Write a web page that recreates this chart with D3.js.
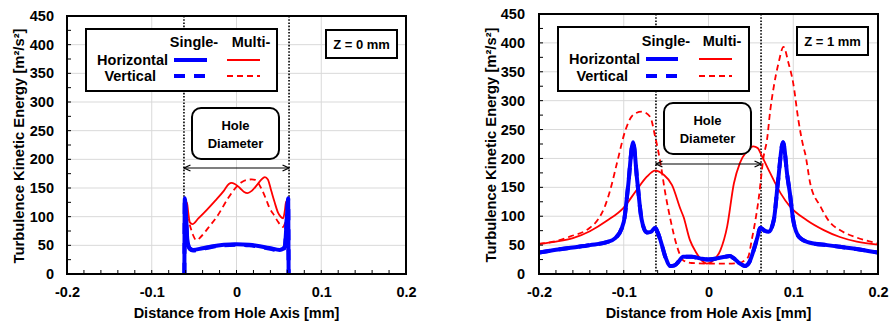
<!DOCTYPE html>
<html>
<head>
<meta charset="utf-8">
<script src="https://cdn.jsdelivr.net/npm/d3@7"></script>
<style>
  body { margin: 0; background: #fff; }
  svg text { font-family: "Liberation Sans", Arial, sans-serif; font-weight: bold; fill: #000; }
</style>
</head>
<body>
<svg id="chart" width="890" height="324"></svg>
<script>
// axis ticks and labels
const xTicks = [-0.2, -0.1, 0, 0.1, 0.2];
const yTicks = [0, 50, 100, 150, 200, 250, 300, 350, 400, 450];
const holeRadius = 0.062;
const panelLabels = ['Z = 0 mm', 'Z = 1 mm'];
const legendCols = ['Single-', 'Multi-'];
const legendRows = ['Horizontal', 'Vertical'];
const xTitle = 'Distance from Hole Axis [mm]';
const yTitle = 'Turbulence Kinetic Energy [m²/s²]';

// Z = 0 mm  ([x, k])
const z0SingleH = [[-0.0615, 0], [-0.061, 132], [-0.0595, 100], [-0.058, 60], [-0.0553, 45], [-0.0513, 42],
  [-0.04, 45], [-0.0297, 48], [-0.015, 51], [0, 52], [0.015, 51], [0.029, 48], [0.04, 45], [0.051, 42],
  [0.055, 44], [0.057, 48], [0.0595, 100], [0.061, 132], [0.0615, 0]];
const z0SingleV = [[-0.0615, 0], [-0.061, 130], [-0.0595, 98], [-0.058, 58], [-0.0553, 44], [-0.0513, 41],
  [-0.04, 44], [-0.0297, 47], [-0.015, 50], [0, 51], [0.015, 50], [0.029, 47], [0.04, 44], [0.051, 41],
  [0.055, 43], [0.057, 47], [0.0595, 98], [0.061, 130], [0.0615, 0]];
const z0MultiH = [[-0.0615, 0], [-0.06, 100], [-0.0585, 125], [-0.057, 108], [-0.055, 90], [-0.052, 87],
  [-0.045, 97], [-0.035, 112], [-0.025, 128], [-0.015, 145], [-0.009, 157], [-0.006, 159], [-0.002, 157],
  [0.004, 150], [0.009, 143], [0.013, 141], [0.018, 145], [0.024, 155], [0.029, 164], [0.0335, 169],
  [0.037, 165], [0.041, 145], [0.045, 125], [0.049, 107], [0.052, 100], [0.055, 97], [0.057, 110],
  [0.0585, 126], [0.06, 90], [0.0615, 0]];
const z0MultiV = [[-0.0615, 0], [-0.0595, 70], [-0.057, 95], [-0.055, 85], [-0.0513, 68], [-0.0474, 59],
  [-0.042, 65], [-0.0336, 80], [-0.0218, 103], [-0.01, 132], [0, 152], [0.006, 160], [0.012, 164],
  [0.018, 165], [0.022, 164], [0.029, 150], [0.035, 130], [0.039, 115], [0.045, 101], [0.049, 91],
  [0.055, 82], [0.058, 90], [0.0595, 70], [0.0615, 0]];

// Z = 1 mm
const z1SingleH = [[-0.2, 37], [-0.18, 42], [-0.16, 46], [-0.14, 50], [-0.12, 55], [-0.11, 62], [-0.1, 90],
  [-0.095, 150], [-0.089, 228], [-0.084, 160], [-0.079, 95], [-0.073, 72], [-0.068, 73], [-0.063, 80],
  [-0.06, 72], [-0.057, 60], [-0.051, 30], [-0.045, 14], [-0.04, 15], [-0.035, 22], [-0.03, 30],
  [-0.02, 30], [-0.01, 27], [0, 25], [0.01, 27], [0.02, 30], [0.025, 31], [0.03, 27], [0.036, 19],
  [0.043, 14], [0.048, 20], [0.053, 40], [0.058, 65], [0.061, 80], [0.066, 75], [0.071, 73], [0.077, 93],
  [0.082, 160], [0.088, 228], [0.093, 170], [0.096, 140], [0.1, 93], [0.107, 64], [0.12, 54], [0.14, 50],
  [0.155, 47], [0.18, 42], [0.2, 37]];
const z1SingleV = z1SingleH.map(d => d.slice());
const z1MultiH = [[-0.2, 52], [-0.18, 56], [-0.16, 62], [-0.14, 74], [-0.12, 92], [-0.1, 115], [-0.085, 145],
  [-0.073, 168], [-0.063, 179], [-0.053, 172], [-0.043, 154], [-0.033, 112], [-0.0295, 99], [-0.022, 59],
  [-0.014, 36], [-0.007, 22], [-0.002, 18], [0.006, 24], [0.014, 41], [0.022, 82], [0.03, 157], [0.037, 192],
  [0.045, 212], [0.053, 221], [0.058, 218], [0.063, 204], [0.073, 174], [0.085, 140], [0.096, 117],
  [0.116, 93], [0.136, 76], [0.155, 64], [0.175, 56], [0.2, 51]];
const z1MultiV = [[-0.2, 52], [-0.18, 57], [-0.163, 65], [-0.14, 80], [-0.13, 95], [-0.122, 118],
  [-0.116, 145], [-0.108, 192], [-0.098, 249], [-0.0885, 276], [-0.0786, 281], [-0.0688, 272], [-0.063, 238],
  [-0.057, 195], [-0.051, 140], [-0.045, 95], [-0.037, 47], [-0.03, 24], [-0.02, 19], [0, 18], [0.02, 18],
  [0.035, 19], [0.043, 24], [0.047, 30], [0.051, 59], [0.055, 90], [0.059, 128], [0.065, 203], [0.069, 232],
  [0.073, 285], [0.077, 324], [0.0826, 365], [0.0885, 393], [0.0944, 365], [0.1, 330], [0.106, 267],
  [0.112, 220], [0.114, 209], [0.12, 157], [0.132, 117], [0.143, 90], [0.155, 76], [0.175, 63], [0.2, 53]];

const styles = {
  singleH: { color: '#0000ff', width: 4, dash: null },
  singleV: { color: '#0000ff', width: 4, dash: '11,9' },
  multiH: { color: '#ff0000', width: 1.8, dash: null },
  multiV: { color: '#ff0000', width: 1.8, dash: '6,4' },
};

const panels = [
  {
    label: panelLabels[0],
    data: { multiV: z0MultiV, multiH: z0MultiH, singleV: z0SingleV, singleH: z0SingleH },
    plot: { left: 67, right: 406, top: 16, bottom: 274 },
    yTitleX: 24, tickPad: 13,
    legend: { x: 86, y: 29, w: 191, h: 62, colX: [194, 251], headY: 47, rowX: [168, 156], rowY: [60, 76],
      lineX: [[174, 207], [227, 260]] },
    zBox: { x: 326, y: 30, w: 71, h: 28 },
    holeBox: { x: 192, y: 108, w: 87, h: 51 },
    arrowY: 168,
  },
  {
    label: panelLabels[1],
    data: { multiV: z1MultiV, multiH: z1MultiH, singleV: z1SingleV, singleH: z1SingleH },
    plot: { left: 539, right: 878, top: 14, bottom: 274 },
    yTitleX: 496, tickPad: 14,
    legend: { x: 558, y: 27, w: 191, h: 64, colX: [666, 722], headY: 46, rowX: [640, 628], rowY: [59, 76],
      lineX: [[646, 678], [699, 732]] },
    zBox: { x: 797, y: 27, w: 71, h: 28 },
    holeBox: { x: 664, y: 103, w: 87, h: 51 },
    arrowY: 164,
  },
];

const svg = d3.select('#chart');
svg.append('rect').attr('width', 890).attr('height', 324).attr('fill', '#fff');

const defs = svg.append('defs');
defs.append('marker')
  .attr('id', 'arrow')
  .attr('viewBox', '0 0 8 8')
  .attr('refX', 7.5).attr('refY', 4)
  .attr('markerWidth', 8).attr('markerHeight', 8)
  .attr('markerUnits', 'userSpaceOnUse')
  .attr('orient', 'auto-start-reverse')
  .append('path')
  .attr('d', 'M1,1 L7.5,4 L1,7')
  .attr('fill', 'none')
  .attr('stroke', '#000')
  .attr('stroke-width', 1.3);

panels.forEach((p, i) => drawPanel(p, i));

function drawPanel(p, i) {
  const { left, right, top, bottom } = p.plot;
  const x = d3.scaleLinear().domain([-0.2, 0.2]).range([left, right]);
  const y = d3.scaleLinear().domain([0, 450]).range([bottom, top]);
  const g = svg.append('g');

  // gridlines
  g.append('g').selectAll('line').data(yTicks.slice(1)).join('line')
    .attr('x1', left).attr('x2', right)
    .attr('y1', (d) => y(d)).attr('y2', (d) => y(d))
    .attr('stroke', '#d9d9d9').attr('stroke-width', 1);
  g.append('g').selectAll('line').data(xTicks.slice(1, -1)).join('line')
    .attr('x1', (d) => x(d)).attr('x2', (d) => x(d))
    .attr('y1', top).attr('y2', bottom)
    .attr('stroke', '#d9d9d9').attr('stroke-width', 1);

  // hole edges
  g.append('g').selectAll('line').data([-holeRadius, holeRadius]).join('line')
    .attr('x1', (d) => x(d)).attr('x2', (d) => x(d))
    .attr('y1', top).attr('y2', bottom)
    .attr('stroke', '#000').attr('stroke-width', 1.6).attr('stroke-dasharray', '1.6,1.6');

  // curves
  const clipId = `clip${i}`;
  defs.append('clipPath').attr('id', clipId)
    .append('rect').attr('x', left).attr('y', top - 2).attr('width', right - left).attr('height', bottom - top + 2);
  const line = d3.line().x((d) => x(d[0])).y((d) => y(d[1])).curve(d3.curveMonotoneX);
  const lines = g.append('g').attr('clip-path', `url(#${clipId})`);
  Object.entries(p.data).forEach(([key, values]) => {
    const s = styles[key];
    lines.append('path')
      .datum(values)
      .attr('d', line)
      .attr('fill', 'none')
      .attr('stroke', s.color)
      .attr('stroke-width', s.width)
      .attr('stroke-linejoin', 'round')
      .attr('stroke-dasharray', s.dash);
  });

  // frame + minor ticks
  g.append('rect')
    .attr('x', left).attr('y', top).attr('width', right - left).attr('height', bottom - top)
    .attr('fill', 'none').attr('stroke', '#000').attr('stroke-width', 2);
  g.append('g').selectAll('line').data(d3.range(25, 450, 25)).join('line')
    .attr('x1', left).attr('x2', left + 4)
    .attr('y1', (d) => y(d)).attr('y2', (d) => y(d))
    .attr('stroke', '#000').attr('stroke-width', 1);
  g.append('g').selectAll('line').data(d3.range(-9, 10).map((k) => k * 0.02)).join('line')
    .attr('x1', (d) => x(d)).attr('x2', (d) => x(d))
    .attr('y1', bottom).attr('y2', bottom - 4)
    .attr('stroke', '#000').attr('stroke-width', 1);

  // axes
  const yAxis = g.append('g').attr('transform', `translate(${left},0)`)
    .call(d3.axisLeft(y).tickValues(yTicks).tickSize(0).tickPadding(p.tickPad));
  const xAxis = g.append('g').attr('transform', `translate(0,${bottom})`)
    .call(d3.axisBottom(x).tickValues(xTicks).tickSize(0).tickPadding(13)
      .tickFormat((d) => (d === 0 ? '0' : String(d))));
  [yAxis, xAxis].forEach((a) => {
    a.select('.domain').remove();
    a.attr('font-family', null).attr('font-size', null);
    a.selectAll('text').attr('font-size', 14.5).attr('fill', '#000');
  });

  g.append('text')
    .attr('x', (left + right) / 2).attr('y', 318)
    .attr('text-anchor', 'middle').attr('font-size', 14.5)
    .text(xTitle);
  g.append('text')
    .attr('transform', `translate(${p.yTitleX},${(top + bottom) / 2 + 1}) rotate(-90)`)
    .attr('text-anchor', 'middle').attr('font-size', 14.5)
    .attr('textLength', 235).attr('lengthAdjust', 'spacingAndGlyphs')
    .text(yTitle);

  // legend
  const L = p.legend;
  g.append('rect').attr('x', L.x).attr('y', L.y).attr('width', L.w).attr('height', L.h)
    .attr('fill', '#fff').attr('stroke', '#000').attr('stroke-width', 2);
  legendCols.forEach((c, j) => {
    g.append('text').attr('x', L.colX[j]).attr('y', L.headY)
      .attr('text-anchor', 'middle').attr('font-size', 14.5).text(c);
  });
  const legendKeys = [['singleH', 'multiH'], ['singleV', 'multiV']];
  legendRows.forEach((r, k) => {
    g.append('text').attr('x', L.rowX[k]).attr('y', L.rowY[k] + 5)
      .attr('text-anchor', 'end').attr('font-size', 14.5).text(r);
    legendKeys[k].forEach((key, j) => {
      const s = styles[key];
      g.append('line')
        .attr('x1', L.lineX[j][0]).attr('x2', L.lineX[j][1])
        .attr('y1', L.rowY[k]).attr('y2', L.rowY[k])
        .attr('stroke', s.color).attr('stroke-width', s.width)
        .attr('stroke-dasharray', s.dash);
    });
  });

  // Z label
  const Z = p.zBox;
  g.append('rect').attr('x', Z.x).attr('y', Z.y).attr('width', Z.w).attr('height', Z.h)
    .attr('fill', '#fff').attr('stroke', '#000').attr('stroke-width', 2);
  g.append('text').attr('x', Z.x + Z.w / 2).attr('y', Z.y + Z.h / 2 + 5)
    .attr('text-anchor', 'middle').attr('font-size', 13).text(p.label);

  // hole diameter callout
  const H = p.holeBox;
  g.append('rect').attr('x', H.x).attr('y', H.y).attr('width', H.w).attr('height', H.h)
    .attr('rx', 9).attr('fill', '#fff').attr('stroke', '#000').attr('stroke-width', 2);
  g.append('text').attr('x', H.x + H.w / 2).attr('y', H.y + 22)
    .attr('text-anchor', 'middle').attr('font-size', 13).text('Hole');
  g.append('text').attr('x', H.x + H.w / 2).attr('y', H.y + 40)
    .attr('text-anchor', 'middle').attr('font-size', 13).text('Diameter');
  g.append('line')
    .attr('x1', x(-holeRadius)).attr('x2', x(holeRadius))
    .attr('y1', p.arrowY).attr('y2', p.arrowY)
    .attr('stroke', '#000').attr('stroke-width', 1.2)
    .attr('marker-start', 'url(#arrow)').attr('marker-end', 'url(#arrow)');
}
</script>
</body>
</html>
